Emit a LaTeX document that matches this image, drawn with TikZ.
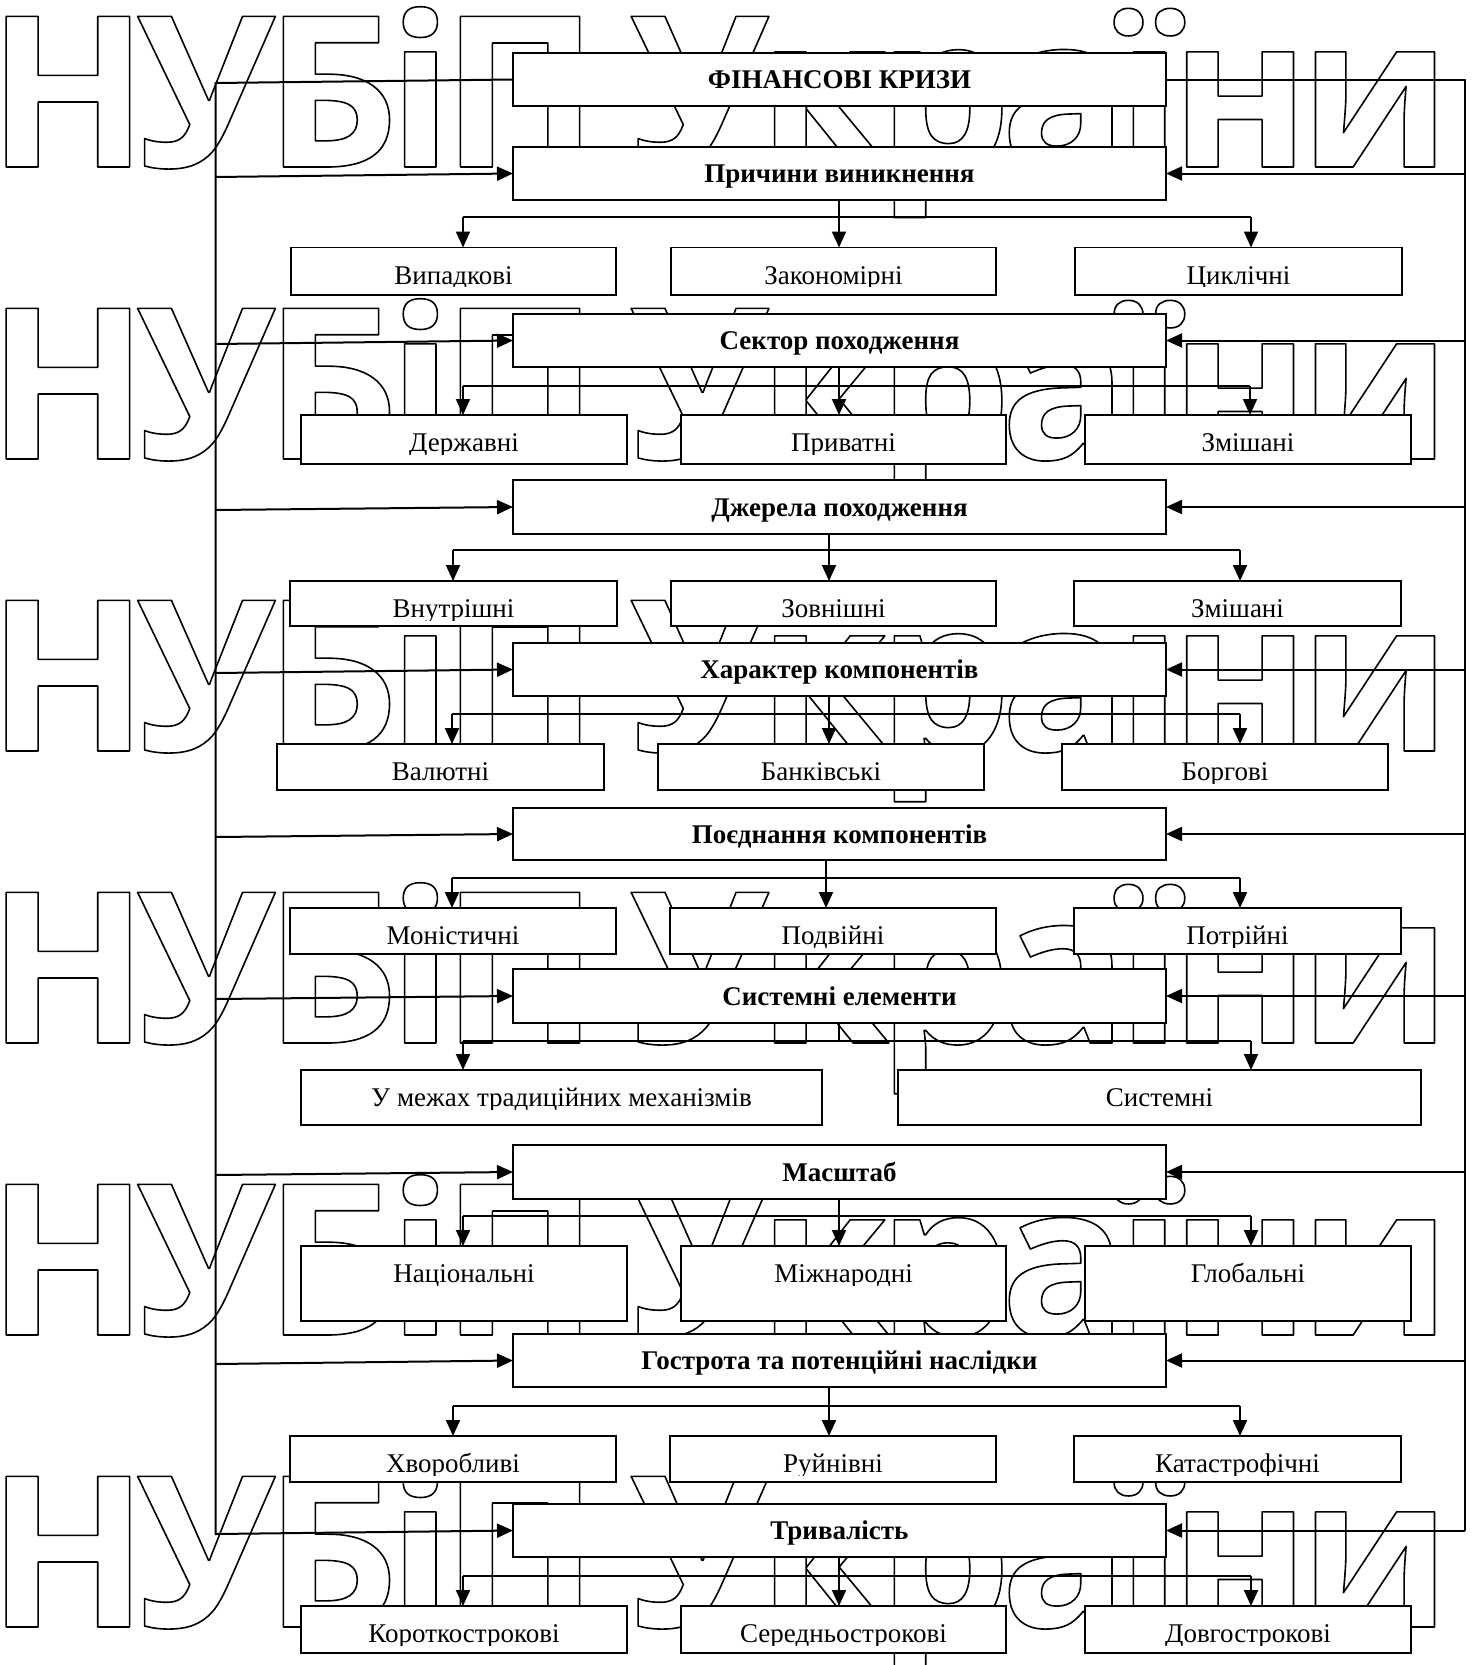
\documentclass[tikz,border=0pt]{standalone}
\usepackage{fontspec}
\setmainfont{Liberation Serif}
\newfontfamily\wmfont{Open Sans}
\usetikzlibrary{arrows.meta}
\newcommand{\wmstroke}{\special{pdf:literal direct 1 Tr 1.6 w 1 j 1 J}}
\newcommand{\wmunstroke}{\special{pdf:literal direct 0 Tr}}
\newcommand{\wk}{\kern-11pt}
\newcommand{\wmword}{\kern-13pt Н\wk У\wk Б\wk і\wk П\wk\ \wk У\wk к\wk р\wk а\wk ї\wk н\wk и}
\tikzset{
  hdr/.style={draw, line width=1.8pt, fill=white, minimum width=653pt, inner sep=0pt, outer sep=0pt},
  hdrtext/.style={anchor=base, inner sep=0pt, font=\bfseries\fontsize{27}{30}\selectfont},
  sub/.style={draw, line width=1.8pt, fill=white, inner sep=0pt, outer sep=0pt},
  subtext/.style={anchor=base, inner sep=0pt, font=\fontsize{27}{30}\selectfont},
  conn/.style={line width=2pt},
  arr/.style={line width=2pt, -{Triangle[length=16pt,width=14pt]}},
  wm/.style={anchor=base west, inner sep=0pt, font=\wmfont\bfseries\fontsize{211}{211}\selectfont}
}
\newcommand{\hdrbx}[4]{%
  \node[hdr, minimum height={(#3-#2)*1pt}] (#1) at (839.5,{(#2+#3)/2}) {};
  \node[hdrtext] (#1-t) at (839.5,{(#2+#3)/2+9}) {#4};}
\newcommand{\subbx}[6]{%
  \node[sub, minimum width={(#4-#2)*1pt}, minimum height={(#5-#3)*1pt}] (#1) at ({(#2+#4)/2},{(#3+#5)/2}) {};
  \begin{scope}
    \clip ({#2},{#3}) rectangle ({#4},{#3+39});
    \node[subtext] (#1-t) at ({(#2+#4)/2},{#3+36.5}) {#6};
  \end{scope}}
% header, dist y, xa, xb, xc, L, M, R
\newcommand{\distr}[8]{%
  \coordinate (#1-a) at (#3,#2);
  \coordinate (#1-b) at (#4,#2);
  \coordinate (#1-c) at (#5,#2);
  \draw[conn] (#1.south -| #1-b) -- (#1-b);
  \draw[conn] (#1-a) -- (#1-c);
  \draw[arr] (#1-a) -- (#1-a |- #6.north);
  \draw[arr] (#1-b) -- (#1-b |- #7.north);
  \draw[arr] (#1-c) -- (#1-c |- #8.north);}
\begin{document}
\begin{tikzpicture}[x=1pt,y=-1pt]
\useasboundingbox (0,0) rectangle (1475,1665);
\fill[white] (0,0) rectangle (1475,1665);
% watermark
\foreach \i in {0,...,5}{
  \node[wm] (wm\i) at (0,{167+292*\i}) {\wmstroke\wmword\wmunstroke};
}
% headers
\hdrbx{F}{53}{106}{ФІНАНСОВІ КРИЗИ}
\hdrbx{P}{147}{200}{Причини виникнення}
\hdrbx{S}{314}{367}{Сектор походження}
\hdrbx{D}{480}{534}{Джерела походження}
\hdrbx{C}{643}{696}{Характер компонентів}
\hdrbx{K}{808}{860}{Поєднання компонентів}
\hdrbx{E}{969}{1023}{Системні елементи}
\hdrbx{M}{1145}{1199}{Масштаб}
\hdrbx{G}{1334}{1387}{Гострота та потенційні наслідки}
\hdrbx{T}{1504}{1557}{Тривалість}
% sub boxes
\subbx{L1}{291}{247.5}{616}{295}{Випадкові}
\subbx{M1}{671}{247.5}{996}{295}{Закономірні}
\subbx{R1}{1075}{247.5}{1402}{295}{Циклічні}
\subbx{L2}{301}{415}{627}{464}{Державні}
\subbx{M2}{681}{415}{1006}{464}{Приватні}
\subbx{R2}{1085}{415}{1411}{464}{Змішані}
\subbx{L3}{290}{581}{617}{626}{Внутрішні}
\subbx{M3}{671}{581}{996}{626}{Зовнішні}
\subbx{R3}{1074}{581}{1401}{626}{Змішані}
\subbx{L4}{277}{744}{604}{790}{Валютні}
\subbx{M4}{658}{744}{984}{790}{Банківські}
\subbx{R4}{1062}{744}{1388}{790}{Боргові}
\subbx{L5}{290}{908}{616}{954}{Моністичні}
\subbx{M5}{670}{908}{996}{954}{Подвійні}
\subbx{R5}{1074}{908}{1401}{954}{Потрійні}
\subbx{L6}{301}{1070}{822}{1125}{У межах традиційних механізмів}
\subbx{R6}{898}{1070}{1421}{1125}{Системні}
\subbx{L7}{301}{1246}{627}{1321}{Національні}
\subbx{M7}{681}{1246}{1006}{1321}{Міжнародні}
\subbx{R7}{1085}{1246}{1411}{1321}{Глобальні}
\subbx{L8}{290}{1436}{616}{1482}{Хворобливі}
\subbx{M8}{670}{1436}{996}{1482}{Руйнівні}
\subbx{R8}{1074}{1436}{1401}{1482}{Катастрофічні}
\subbx{L9}{301}{1606}{627}{1653}{Короткострокові}
\subbx{M9}{681}{1606}{1006}{1653}{Середньострокові}
\subbx{R9}{1085}{1606}{1411}{1653}{Довгострокові}
% buses
\coordinate (ltop) at (215.5,83);
\coordinate (lbot) at (215.5,1535);
\coordinate (rtop) at (1465,79.5);
\coordinate (rbot) at (1465,1531);
\draw[conn] (F.west) -- (ltop) -- (lbot);
\draw[conn] (F.east) -- (rtop) -- (rbot);
\foreach \h/\y in {P/177,S/344,D/510,C/673,K/837,E/999,M/1175,G/1364,T/1534}{
  \coordinate (l\h) at (215.5,\y);
  \draw[arr] (l\h) -- (\h.west);
  \coordinate (r\h) at (rtop |- \h.east);
  \draw[arr] (r\h) -- (\h.east);
}
% distributions
\distr{P}{217}{463}{839}{1251}{L1}{M1}{R1}
\distr{S}{386}{463}{839}{1250}{L2}{M2}{R2}
\distr{D}{550}{453}{829}{1240}{L3}{M3}{R3}
\distr{C}{714}{452}{829}{1240}{L4}{M4}{R4}
\distr{K}{878}{452}{826}{1240}{L5}{M5}{R5}
\coordinate (E-a) at (463,1041);
\coordinate (E-b) at (839,1041);
\coordinate (E-c) at (1251,1041);
\draw[conn] (E.south -| E-b) -- (E-b);
\draw[conn] (E-a) -- (E-c);
\draw[arr] (E-a) -- (E-a |- L6.north);
\draw[arr] (E-c) -- (E-c |- R6.north);
\distr{M}{1216}{463}{839}{1251}{L7}{M7}{R7}
\distr{G}{1406}{453}{829}{1240}{L8}{M8}{R8}
\distr{T}{1576}{463}{839}{1251}{L9}{M9}{R9}
\end{tikzpicture}
\end{document}
